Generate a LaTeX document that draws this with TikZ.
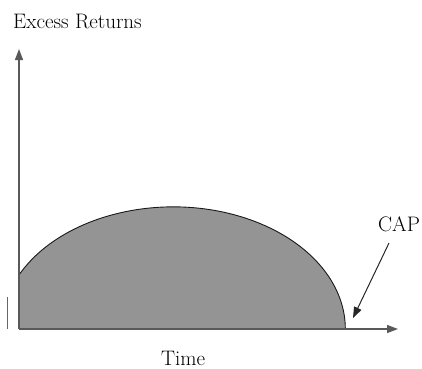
\documentclass[tikz,border=0pt]{standalone}
\usetikzlibrary{arrows.meta}
\begin{document}
\begin{tikzpicture}[x=1pt,y=1pt,
  axis/.style={draw=black!65,line width=1.3pt,-{Stealth[length=11pt,width=8pt,inset=0pt]}},
  lbl/.style={font=\fontsize{21}{24}\selectfont,inner sep=0pt,text=black},
  capline/.style={draw=black!85,line width=1pt,-{Stealth[length=11pt,width=8pt,inset=0pt]}}]
\useasboundingbox (0,0) rectangle (422,368);
% filled region
\fill[black!42] (19,39) -- (19,93) arc[start angle=153.8,end angle=0,x radius=172,y radius=122] -- cycle;
\draw[black!90,line width=0.9pt] (19,93) arc[start angle=153.8,end angle=0,x radius=172,y radius=122];
% axes
\coordinate (o) at (19,39);
\coordinate (ytip) at (19,319);
\coordinate (xtip) at (398,39);
\draw[axis] (o) -- (ytip);
\draw[axis] (o) -- (xtip);
% small left tick
\coordinate (t1) at (7.5,39);
\coordinate (t2) at (7.5,71);
\draw[black!60,line width=0.8pt] (t1) -- (t2);
% labels
\node[lbl,anchor=base west] (yl) at (13,340) {Excess Returns};
\node[lbl,anchor=base west] (xl) at (161,3) {Time};
\node[lbl,anchor=base west] (cap) at (378,137) {CAP};
\coordinate (cs) at (389,125);
\coordinate (ce) at (353,50);
\draw[capline] (cs) -- (ce);
\end{tikzpicture}
\end{document}
